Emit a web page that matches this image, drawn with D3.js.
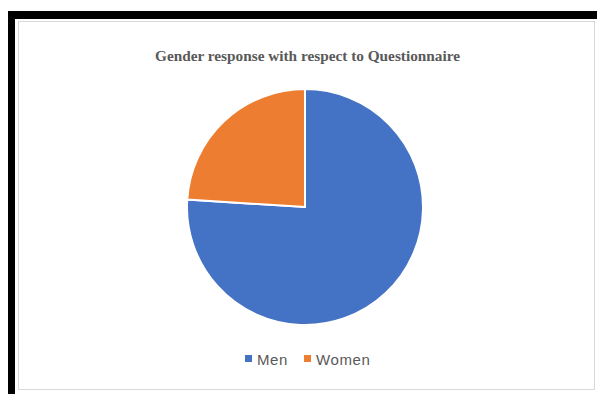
<!DOCTYPE html>
<html>
<head>
<meta charset="utf-8">
<script src="https://cdn.jsdelivr.net/npm/d3@7"></script>
<style>
  body { margin: 0; background: #fff; }
</style>
</head>
<body>
<div id="main"></div>
<script>
  var categories = ["Men", "Women"];
  var values = [76, 24];
  var colors = ["#4472C4", "#ED7D31"];

  var svg = d3.select("#main")
              .append("svg")
              .attr("width", 597)
              .attr("height", 394);

  // black frame (top + left)
  svg.append("rect")
      .attr("x", 8).attr("y", 11)
      .attr("width", 589).attr("height", 8)
      .attr("fill", "#000");
  svg.append("rect")
      .attr("x", 8).attr("y", 11)
      .attr("width", 7).attr("height", 383)
      .attr("fill", "#000");

  // chart area
  svg.append("rect")
      .attr("x", 18.5).attr("y", 21.5)
      .attr("width", 576).attr("height", 368)
      .attr("fill", "#fff")
      .attr("stroke", "#d9d9d9")
      .attr("stroke-width", 1);

  svg.append("text")
      .attr("x", 155).attr("y", 61)
      .attr("textLength", 305)
      .attr("lengthAdjust", "spacingAndGlyphs")
      .style("font-family", "'Liberation Serif', serif")
      .style("font-weight", "bold")
      .style("font-size", "14px")
      .style("fill", "#595959")
      .text("Gender response with respect to Questionnaire");

  var pie = d3.pie().sort(null).value(function(d) { return d; });
  var arc = d3.arc().innerRadius(0).outerRadius(118);

  var g = svg.append("g").attr("transform", "translate(305,207)");
  g.selectAll("path")
      .data(pie(values))
      .enter().append("path")
      .attr("d", arc)
      .attr("fill", function(d, i) { return colors[i]; })
      .attr("stroke", "#fff")
      .attr("stroke-width", 2);

  // legend
  var legendX = [245, 304];
  var legend = svg.selectAll(".leg")
      .data(categories)
      .enter().append("g")
      .attr("transform", function(d, i) { return "translate(" + legendX[i] + ",360)"; });
  legend.append("rect")
      .attr("x", 0).attr("y", -5)
      .attr("width", 7).attr("height", 7)
      .attr("fill", function(d, i) { return colors[i]; });
  legend.append("text")
      .attr("x", 12).attr("y", 5)
      .style("font-family", "'Liberation Sans', Arial, sans-serif")
      .style("font-size", "15px")
      .style("letter-spacing", "0.6px")
      .style("fill", "#595959")
      .text(function(d) { return d; });
</script>
</body>
</html>
